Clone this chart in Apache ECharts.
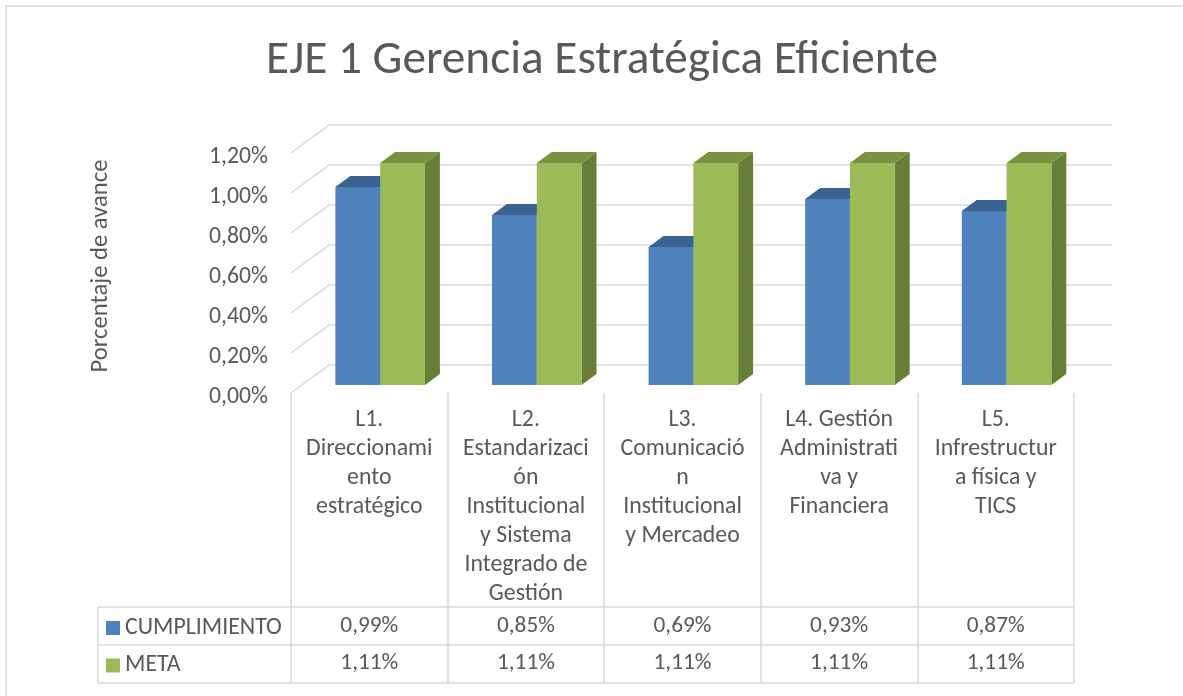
<!DOCTYPE html>
<html>
<head>
<meta charset="utf-8">
<script src="https://cdn.jsdelivr.net/npm/echarts@6/dist/echarts.min.js"></script>
<style>
html,body{margin:0;padding:0;background:#fff;}
#chart{width:1183px;height:696px;}
</style>
</head>
<body>
<div id="chart"></div>
<script>
// ---- data ----
const titleText = 'EJE 1 Gerencia Estratégica Eficiente';
const yAxisName = 'Porcentaje de avance';
const categories = [
  'L1.\nDireccionami\nento\nestratégico',
  'L2.\nEstandarizaci\nón\nInstitucional\ny Sistema\nIntegrado de\nGestión',
  'L3.\nComunicació\nn\nInstitucional\ny Mercadeo',
  'L4. Gestión\nAdministrati\nva y\nFinanciera',
  'L5.\nInfrestructur\na física y\nTICS'
];
const seriesNames = ['CUMPLIMIENTO', 'META'];
const cumplimiento = [0.99, 0.85, 0.69, 0.93, 0.87];
const meta = [1.11, 1.11, 1.11, 1.11, 1.11];
const yTicks = [0, 0.2, 0.4, 0.6, 0.8, 1.0, 1.2];

// ---- styles ----
const FAMILY = 'Carlito, Lato, sans-serif';
const TEXT = '#595959';
const LINE = '#d9d9d9';
const mctx = document.createElement('canvas').getContext('2d');
function fit(text, target) {
  mctx.font = '100px ' + FAMILY;
  return 100 * target / mctx.measureText(text).width;
}
const fsTitle = fit(titleText, 672);
const fsTick = fit('1,20%', 59);
const fsCat = fit('Administrati', 118);
const fsVal = fit('0,93%', 58);
const fsLegend = fit('CUMPLIMIENTO', 157);
const fsName = fit(yAxisName, 213);

const fmt = v => v.toFixed(2).replace('.', ',') + '%';

// depth of the 3-D box (back wall offset) and bar slab position inside it
const DX = 38, DY = 28;
const F1 = 0.286, F2 = 0.679;
const faceColors = [
  { front: '#4F81BD', top: '#3B6392', side: '#385D8A' },
  { front: '#9BBB59', top: '#78933F', side: '#667E36' }
];
const rowCenterOffset = [233, 270];

function barRender(sIdx) {
  return function (params, api) {
    const i = api.value(0), v = api.value(1);
    const p0 = api.coord([i, 0]);
    const p1 = api.coord([i, v]);
    const band = api.size([1, 0])[0];
    const w = band * 0.286;
    const fx = DX * F1, fy = DY * F1;
    const ddx = DX * (F2 - F1), ddy = DY * (F2 - F1);
    const cx = p0[0] + fx;
    const x0 = sIdx === 0 ? cx - w : cx;
    const x1 = x0 + w;
    const yb = p0[1] - fy, yt = p1[1] - fy;
    const c = faceColors[sIdx];
    const cs = params.coordSys;
    return {
      type: 'group',
      children: [
        { type: 'polygon', shape: { points: [[x1, yt], [x1 + ddx, yt - ddy], [x1 + ddx, yb - ddy], [x1, yb]] },
          style: { fill: c.side } },
        { type: 'polygon', shape: { points: [[x0, yt], [x1, yt], [x1 + ddx, yt - ddy], [x0 + ddx, yt - ddy]] },
          style: { fill: c.top } },
        { type: 'rect', shape: { x: x0, y: yt, width: w, height: yb - yt },
          style: { fill: c.front } },
        { type: 'text', x: p0[0], y: cs.y + cs.height + rowCenterOffset[sIdx],
          style: { text: fmt(v), fill: TEXT, font: fsVal + 'px ' + FAMILY, align: 'center', verticalAlign: 'middle' } }
      ]
    };
  };
}

function gridRender(params, api) {
  const v = api.value(1);
  const p = api.coord([0, v]);
  const cs = params.coordSys;
  const x = cs.x, y = p[1];
  return {
    type: 'polyline',
    shape: { points: [[x, y], [x + DX, y - DY], [x + cs.width + DX, y - DY]] },
    style: { stroke: LINE, lineWidth: 1.5, fill: null },
    z2: -1
  };
}

const chart = echarts.init(document.getElementById('chart'), null, { renderer: 'canvas' });
chart.setOption({
  animation: false,
  backgroundColor: '#fff',
  textStyle: { fontFamily: FAMILY },
  title: {
    text: titleText, left: 597, top: 33, textAlign: 'center',
    textStyle: { color: TEXT, fontSize: fsTitle, fontWeight: 'normal', fontFamily: FAMILY }
  },
  legend: [0, 1].map(k => ({
    data: [seriesNames[k]], orient: 'vertical', left: 106, top: 626 + k * 37.5 - 10,
    padding: 0, itemWidth: 14, itemHeight: 14, itemGap: 5, icon: 'rect', selectedMode: false,
    textStyle: { color: TEXT, fontSize: fsLegend, fontFamily: FAMILY, lineHeight: 20 }
  })),
  grid: { left: 291, top: 153, width: 783, height: 240 },
  xAxis: {
    type: 'category', data: categories,
    axisLine: { show: false },
    axisTick: { show: true, length: 290, interval: 0, lineStyle: { color: LINE, width: 1.5 } },
    axisLabel: { interval: 0, margin: 13, color: TEXT, fontSize: fsCat, lineHeight: 29, fontFamily: FAMILY, align: 'center' },
    splitLine: { show: false }
  },
  yAxis: {
    type: 'value', min: 0, max: 1.2, interval: 0.2,
    axisLine: { show: false }, axisTick: { show: false }, splitLine: { show: false },
    axisLabel: { formatter: fmt, color: TEXT, fontSize: fsTick, margin: 23, fontFamily: FAMILY,
      verticalAlign: 'top', lineHeight: 8 }
  },
  graphic: [
    { type: 'rect', shape: { x: 6, y: 6, width: 1300, height: 800 }, style: { fill: null, stroke: LINE, lineWidth: 1.5 }, silent: true },
    { type: 'line', shape: { x1: 98, y1: 607, x2: 1074, y2: 607 }, style: { stroke: LINE, lineWidth: 1.5 } },
    { type: 'line', shape: { x1: 98, y1: 645, x2: 1074, y2: 645 }, style: { stroke: LINE, lineWidth: 1.5 } },
    { type: 'line', shape: { x1: 98, y1: 683, x2: 1074, y2: 683 }, style: { stroke: LINE, lineWidth: 1.5 } },
    { type: 'line', shape: { x1: 98, y1: 607, x2: 98, y2: 683 }, style: { stroke: LINE, lineWidth: 1.5 } },
    { type: 'text', x: 101, y: 266, rotation: Math.PI / 2,
      style: { text: yAxisName, fill: TEXT, font: fsName + 'px ' + FAMILY, align: 'center', verticalAlign: 'middle' } }
  ],
  series: [
    { type: 'custom', name: 'grid', renderItem: gridRender, encode: { x: 0, y: 1 }, z: 1,
      data: yTicks.map(v => [0, v]), silent: true },
    { type: 'custom', name: seriesNames[0], renderItem: barRender(0), encode: { x: 0, y: 1 }, z: 2,
      itemStyle: { color: faceColors[0].front },
      data: cumplimiento.map((v, i) => [i, v]) },
    { type: 'custom', name: seriesNames[1], renderItem: barRender(1), encode: { x: 0, y: 1 }, z: 3,
      itemStyle: { color: faceColors[1].front },
      data: meta.map((v, i) => [i, v]) }
  ]
});
</script>
</body>
</html>
